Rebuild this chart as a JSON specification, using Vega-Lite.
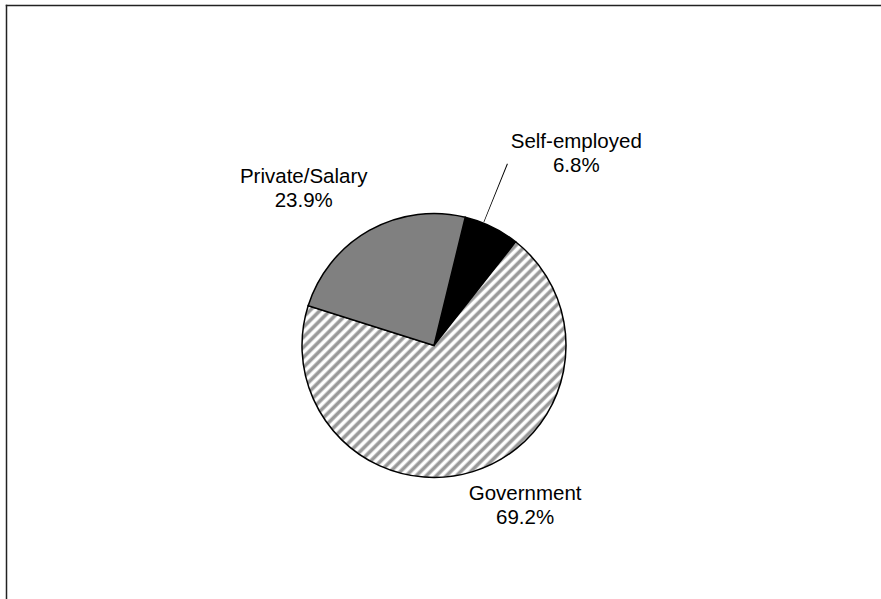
{
  "$schema": "https://vega.github.io/schema/vega-lite/v6.json",
  "width": 875,
  "height": 594,
  "autosize": {"type": "none"},
  "padding": {"left": 6, "top": 5, "right": 0, "bottom": 0},
  "background": "white",
  "view": {"stroke": null, "fill": null},
  "data": {"values": [
    {"cat": "Self-employed", "value": 6.8, "ord": 1, "label": "Self-employed\n6.8%"},
    {"cat": "Government", "value": 69.2, "ord": 2, "label": "Government\n69.2%"},
    {"cat": "Private/Salary", "value": 23.9, "ord": 3, "label": "Private/Salary\n23.9%"}
  ]},
  "layer": [
    {
      "mark": {"type": "point", "opacity": 0},
      "encoding": {
        "x": {"field": "value", "type": "quantitative", "axis": {"orient": "top", "domain": true, "domainColor": "#222", "domainWidth": 1.5, "domainCap": "square", "ticks": false, "labels": false, "grid": false, "title": null}},
        "y": {"field": "ord", "type": "quantitative", "axis": {"orient": "left", "domain": true, "domainColor": "#222", "domainWidth": 1.5, "domainCap": "square", "ticks": false, "labels": false, "grid": false, "title": null}}
      }
    },
    {
      "mark": {"type": "arc", "radius": 132, "xOffset": -9.5, "yOffset": 43.5, "stroke": "#000", "strokeWidth": 1.5},
      "encoding": {
        "theta": {"field": "value", "type": "quantitative", "stack": true, "scale": {"range": [0.239, 6.5222]}},
        "order": {"field": "ord", "type": "quantitative"},
        "fill": {
          "condition": [
            {"test": "datum.cat === 'Government'", "value": {"gradient": "linear", "x1": 0, "y1": 0, "x2": 1.06, "y2": 0.946, "stops": [
              {"offset":0,"color":"#fff"},{"offset":0.005,"color":"#fff"},{"offset":0.01,"color":"#999"},{"offset":0.015,"color":"#999"},
              {"offset":0.02,"color":"#fff"},{"offset":0.025,"color":"#fff"},{"offset":0.03,"color":"#999"},{"offset":0.035,"color":"#999"},
              {"offset":0.04,"color":"#fff"},{"offset":0.045,"color":"#fff"},{"offset":0.05,"color":"#999"},{"offset":0.055,"color":"#999"},
              {"offset":0.06,"color":"#fff"},{"offset":0.065,"color":"#fff"},{"offset":0.07,"color":"#999"},{"offset":0.075,"color":"#999"},
              {"offset":0.08,"color":"#fff"},{"offset":0.085,"color":"#fff"},{"offset":0.09,"color":"#999"},{"offset":0.095,"color":"#999"},
              {"offset":0.1,"color":"#fff"},{"offset":0.105,"color":"#fff"},{"offset":0.11,"color":"#999"},{"offset":0.115,"color":"#999"},
              {"offset":0.12,"color":"#fff"},{"offset":0.125,"color":"#fff"},{"offset":0.13,"color":"#999"},{"offset":0.135,"color":"#999"},
              {"offset":0.14,"color":"#fff"},{"offset":0.145,"color":"#fff"},{"offset":0.15,"color":"#999"},{"offset":0.155,"color":"#999"},
              {"offset":0.16,"color":"#fff"},{"offset":0.165,"color":"#fff"},{"offset":0.17,"color":"#999"},{"offset":0.175,"color":"#999"},
              {"offset":0.18,"color":"#fff"},{"offset":0.185,"color":"#fff"},{"offset":0.19,"color":"#999"},{"offset":0.195,"color":"#999"},
              {"offset":0.2,"color":"#fff"},{"offset":0.205,"color":"#fff"},{"offset":0.21,"color":"#999"},{"offset":0.215,"color":"#999"},
              {"offset":0.22,"color":"#fff"},{"offset":0.225,"color":"#fff"},{"offset":0.23,"color":"#999"},{"offset":0.235,"color":"#999"},
              {"offset":0.24,"color":"#fff"},{"offset":0.245,"color":"#fff"},{"offset":0.25,"color":"#999"},{"offset":0.255,"color":"#999"},
              {"offset":0.26,"color":"#fff"},{"offset":0.265,"color":"#fff"},{"offset":0.27,"color":"#999"},{"offset":0.275,"color":"#999"},
              {"offset":0.28,"color":"#fff"},{"offset":0.285,"color":"#fff"},{"offset":0.29,"color":"#999"},{"offset":0.295,"color":"#999"},
              {"offset":0.3,"color":"#fff"},{"offset":0.305,"color":"#fff"},{"offset":0.31,"color":"#999"},{"offset":0.315,"color":"#999"},
              {"offset":0.32,"color":"#fff"},{"offset":0.325,"color":"#fff"},{"offset":0.33,"color":"#999"},{"offset":0.335,"color":"#999"},
              {"offset":0.34,"color":"#fff"},{"offset":0.345,"color":"#fff"},{"offset":0.35,"color":"#999"},{"offset":0.355,"color":"#999"},
              {"offset":0.36,"color":"#fff"},{"offset":0.365,"color":"#fff"},{"offset":0.37,"color":"#999"},{"offset":0.375,"color":"#999"},
              {"offset":0.38,"color":"#fff"},{"offset":0.385,"color":"#fff"},{"offset":0.39,"color":"#999"},{"offset":0.395,"color":"#999"},
              {"offset":0.4,"color":"#fff"},{"offset":0.405,"color":"#fff"},{"offset":0.41,"color":"#999"},{"offset":0.415,"color":"#999"},
              {"offset":0.42,"color":"#fff"},{"offset":0.425,"color":"#fff"},{"offset":0.43,"color":"#999"},{"offset":0.435,"color":"#999"},
              {"offset":0.44,"color":"#fff"},{"offset":0.445,"color":"#fff"},{"offset":0.45,"color":"#999"},{"offset":0.455,"color":"#999"},
              {"offset":0.46,"color":"#fff"},{"offset":0.465,"color":"#fff"},{"offset":0.47,"color":"#999"},{"offset":0.475,"color":"#999"},
              {"offset":0.48,"color":"#fff"},{"offset":0.485,"color":"#fff"},{"offset":0.49,"color":"#999"},{"offset":0.495,"color":"#999"},
              {"offset":0.5,"color":"#fff"},{"offset":0.505,"color":"#fff"},{"offset":0.51,"color":"#999"},{"offset":0.515,"color":"#999"},
              {"offset":0.52,"color":"#fff"},{"offset":0.525,"color":"#fff"},{"offset":0.53,"color":"#999"},{"offset":0.535,"color":"#999"},
              {"offset":0.54,"color":"#fff"},{"offset":0.545,"color":"#fff"},{"offset":0.55,"color":"#999"},{"offset":0.555,"color":"#999"},
              {"offset":0.56,"color":"#fff"},{"offset":0.565,"color":"#fff"},{"offset":0.57,"color":"#999"},{"offset":0.575,"color":"#999"},
              {"offset":0.58,"color":"#fff"},{"offset":0.585,"color":"#fff"},{"offset":0.59,"color":"#999"},{"offset":0.595,"color":"#999"},
              {"offset":0.6,"color":"#fff"},{"offset":0.605,"color":"#fff"},{"offset":0.61,"color":"#999"},{"offset":0.615,"color":"#999"},
              {"offset":0.62,"color":"#fff"},{"offset":0.625,"color":"#fff"},{"offset":0.63,"color":"#999"},{"offset":0.635,"color":"#999"},
              {"offset":0.64,"color":"#fff"},{"offset":0.645,"color":"#fff"},{"offset":0.65,"color":"#999"},{"offset":0.655,"color":"#999"},
              {"offset":0.66,"color":"#fff"},{"offset":0.665,"color":"#fff"},{"offset":0.67,"color":"#999"},{"offset":0.675,"color":"#999"},
              {"offset":0.68,"color":"#fff"},{"offset":0.685,"color":"#fff"},{"offset":0.69,"color":"#999"},{"offset":0.695,"color":"#999"},
              {"offset":0.7,"color":"#fff"},{"offset":0.705,"color":"#fff"},{"offset":0.71,"color":"#999"},{"offset":0.715,"color":"#999"},
              {"offset":0.72,"color":"#fff"},{"offset":0.725,"color":"#fff"},{"offset":0.73,"color":"#999"},{"offset":0.735,"color":"#999"},
              {"offset":0.74,"color":"#fff"},{"offset":0.745,"color":"#fff"},{"offset":0.75,"color":"#999"},{"offset":0.755,"color":"#999"},
              {"offset":0.76,"color":"#fff"},{"offset":0.765,"color":"#fff"},{"offset":0.77,"color":"#999"},{"offset":0.775,"color":"#999"},
              {"offset":0.78,"color":"#fff"},{"offset":0.785,"color":"#fff"},{"offset":0.79,"color":"#999"},{"offset":0.795,"color":"#999"},
              {"offset":0.8,"color":"#fff"},{"offset":0.805,"color":"#fff"},{"offset":0.81,"color":"#999"},{"offset":0.815,"color":"#999"},
              {"offset":0.82,"color":"#fff"},{"offset":0.825,"color":"#fff"},{"offset":0.83,"color":"#999"},{"offset":0.835,"color":"#999"},
              {"offset":0.84,"color":"#fff"},{"offset":0.845,"color":"#fff"},{"offset":0.85,"color":"#999"},{"offset":0.855,"color":"#999"},
              {"offset":0.86,"color":"#fff"},{"offset":0.865,"color":"#fff"},{"offset":0.87,"color":"#999"},{"offset":0.875,"color":"#999"},
              {"offset":0.88,"color":"#fff"},{"offset":0.885,"color":"#fff"},{"offset":0.89,"color":"#999"},{"offset":0.895,"color":"#999"},
              {"offset":0.9,"color":"#fff"},{"offset":0.905,"color":"#fff"},{"offset":0.91,"color":"#999"},{"offset":0.915,"color":"#999"},
              {"offset":0.92,"color":"#fff"},{"offset":0.925,"color":"#fff"},{"offset":0.93,"color":"#999"},{"offset":0.935,"color":"#999"},
              {"offset":0.94,"color":"#fff"},{"offset":0.945,"color":"#fff"},{"offset":0.95,"color":"#999"},{"offset":0.955,"color":"#999"},
              {"offset":0.96,"color":"#fff"},{"offset":0.965,"color":"#fff"},{"offset":0.97,"color":"#999"},{"offset":0.975,"color":"#999"},
              {"offset":0.98,"color":"#fff"},{"offset":0.985,"color":"#fff"},{"offset":0.99,"color":"#999"},{"offset":0.995,"color":"#999"},
              {"offset":1,"color":"#fff"}
            ]}},
            {"test": "datum.cat === 'Self-employed'", "value": "#000"}
          ],
          "value": "#808080"
        }
      }
    },
    {
      "mark": {"type": "text", "radius": 220, "dx": 36.5, "dy": 43.5, "align": "center", "baseline": "alphabetic", "lineBreak": "\n", "lineHeight": 24, "font": "Liberation Sans", "fontSize": 20.5, "color": "#000"},
      "encoding": {
        "theta": {"field": "value", "type": "quantitative", "stack": true, "scale": {"range": [0.239, 6.5222]}},
        "order": {"field": "ord", "type": "quantitative"},
        "text": {"condition": {"test": "datum.cat === 'Self-employed'", "field": "label", "type": "nominal"}, "value": ""}
      }
    },
    {
      "mark": {"type": "text", "radius": 160, "dx": 34.5, "dy": 45.5, "align": "center", "baseline": "alphabetic", "lineBreak": "\n", "lineHeight": 24, "font": "Liberation Sans", "fontSize": 20.5, "color": "#000"},
      "encoding": {
        "theta": {"field": "value", "type": "quantitative", "stack": true, "scale": {"range": [0.239, 6.5222]}},
        "order": {"field": "ord", "type": "quantitative"},
        "text": {"condition": {"test": "datum.cat === 'Government'", "field": "label", "type": "nominal"}, "value": ""}
      }
    },
    {
      "mark": {"type": "text", "radius": 180, "dx": -51.5, "dy": 37.5, "align": "center", "baseline": "alphabetic", "lineBreak": "\n", "lineHeight": 24, "font": "Liberation Sans", "fontSize": 20.5, "color": "#000"},
      "encoding": {
        "theta": {"field": "value", "type": "quantitative", "stack": true, "scale": {"range": [0.239, 6.5222]}},
        "order": {"field": "ord", "type": "quantitative"},
        "text": {"condition": {"test": "datum.cat === 'Private/Salary'", "field": "label", "type": "nominal"}, "value": ""}
      }
    },
    {
      "data": {"values": [{"part": "leader"}]},
      "mark": {"type": "arc", "theta": 0.3815, "theta2": 0.3865, "radius": 196, "radius2": 133, "xOffset": -9.5, "yOffset": 43.5, "fill": "#000"},
      "encoding": {}
    }
  ]
}
